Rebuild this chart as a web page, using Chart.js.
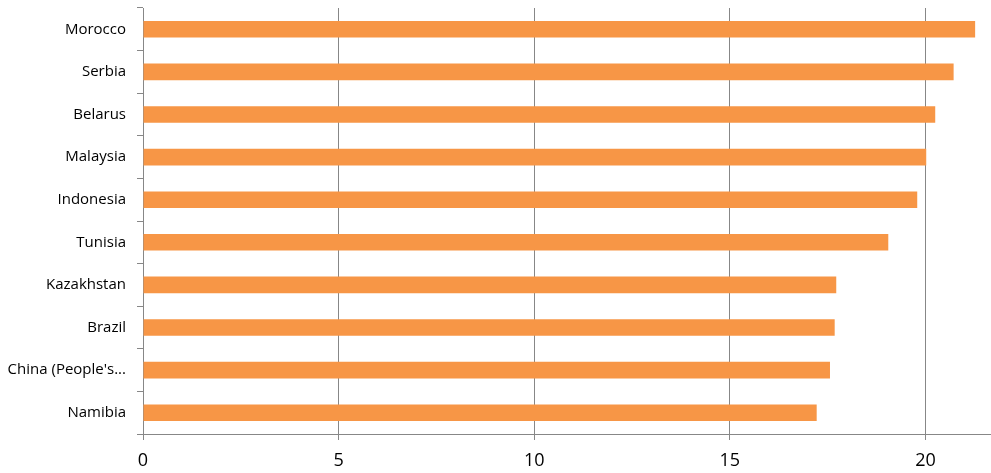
<!DOCTYPE html>
<html><head><meta charset="utf-8">
<script src="https://cdn.jsdelivr.net/npm/chart.js@4/dist/chart.umd.min.js"></script>
<style>html,body{margin:0;padding:0;background:#fff;}canvas{display:block;}</style>
</head><body>
<canvas id="c" width="991" height="473"></canvas>
<script>
const categories = ["Morocco","Serbia","Belarus","Malaysia","Indonesia","Tunisia","Kazakhstan","Brazil","China (People's...","Namibia"];
const values = [21.27,20.72,20.25,20.02,19.79,19.05,17.72,17.68,17.56,17.22];
const xTicks = [0,5,10,15,20];

const gridColor = '#878787';
new Chart(document.getElementById('c'), {
  type: 'bar',
  data: { labels: categories, datasets: [{ data: values, backgroundColor: '#F79646', categoryPercentage: 0.39, barPercentage: 1.0 }] },
  options: {
    indexAxis: 'y', responsive: false, animation: false,
    layout: { padding: { top: 0, right: 1, left: 0, bottom: 0 } },
    plugins: { legend: { display: false }, tooltip: { enabled: false } },
    scales: {
      x: {
        min: 0, max: 21.65,
        afterBuildTicks: s => { s.ticks = xTicks.map(v => ({ value: v })); },
        afterFit: s => { s.height = 39; },
        grid: { color: gridColor, lineWidth: 1, tickLength: 6, drawTicks: true },
        border: { color: gridColor, width: 1 },
        ticks: { color: '#000', font: { family: 'Open Sans', size: 18 }, padding: 10, maxRotation: 0 }
      },
      y: {
        afterFit: s => { s.width = 143; s.paddingTop = 8; },
        grid: { drawOnChartArea: false, color: gridColor, tickLength: 6, offset: true },
        border: { color: gridColor, width: 1 },
        ticks: { color: '#000', font: { family: 'Open Sans', size: 15 }, padding: 11, autoSkip: false }
      }
    }
  }
});
</script>
</body></html>
